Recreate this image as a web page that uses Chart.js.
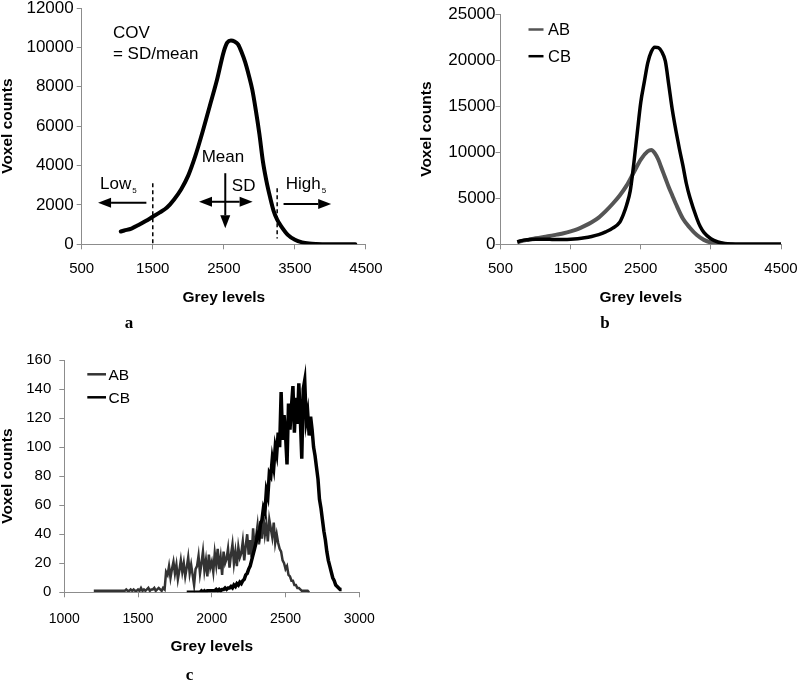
<!DOCTYPE html>
<html><head><meta charset="utf-8">
<script src="https://cdn.jsdelivr.net/npm/chart.js@4.4.1/dist/chart.umd.min.js"></script>
<style>
html,body{margin:0;padding:0;background:#fff;}
#wrap{position:relative;width:799px;height:681px;overflow:hidden;background:#fff;}
canvas{position:absolute;left:0;top:0;}
</style></head><body>
<div id="wrap">
<canvas id="ca" width="799" height="681"></canvas>
<canvas id="cb" width="799" height="681"></canvas>
<canvas id="cc" width="799" height="681"></canvas>
</div>
<script>
// ================= DATA =================
const panelLabels = ['a', 'b', 'c'];
const seriesNames = ['AB', 'CB'];
const xTitle = 'Grey levels';
const yTitle = 'Voxel counts';

// Panel a: single histogram (AB)
const aXTicks = [500, 1500, 2500, 3500, 4500];
const aYTicks = [0, 2000, 4000, 6000, 8000, 10000, 12000];
const aGrey   = [1050,1100,1200,1300,1400,1500,1600,1700,1800,1900,2000,2100,2200,2300,2400,2500,2550,2600,2650,2700,2750,2800,2850,2900,2950,3000,3050,3100,3150,3200,3250,3300,3400,3500,3600,3700,3800,3900,4000,4100,4200,4350];
const aCounts = [650,700,800,980,1180,1400,1620,1870,2280,2800,3500,4500,5700,7000,8300,9800,10250,10350,10300,10150,9750,9250,8600,7850,6800,5600,4200,3200,2400,1700,1250,950,480,230,100,40,15,5,0,0,0,0];
const lowCut = 1500;   // Low5 threshold
const highCut = 3250;  // High5 threshold
const meanGrey = 2520;

// Panel b: AB vs CB
const bXTicks = [500, 1500, 2500, 3500, 4500];
const bYTicks = [0, 5000, 10000, 15000, 20000, 25000];
const bGreyAB   = [740,800,900,1000,1100,1200,1300,1400,1500,1600,1700,1800,1900,2000,2100,2200,2300,2400,2500,2600,2650,2700,2750,2800,2850,2900,2950,3000,3100,3200,3300,3400,3500,3600,3700,3800,3900,4000,4500];
const bCountsAB = [200,350,500,650,780,900,1050,1200,1400,1650,2000,2400,2900,3600,4400,5300,6400,7800,9200,10100,10250,9900,9200,8200,7200,6200,5300,4400,2800,1800,1000,480,200,80,30,10,0,0,0];
const bGreyCB   = [740,800,900,1000,1100,1200,1300,1400,1500,1600,1700,1800,1900,2000,2100,2200,2250,2300,2350,2400,2450,2500,2550,2600,2650,2700,2750,2800,2850,2900,2950,3000,3050,3100,3150,3200,3300,3350,3400,3500,3600,3700,3800,3900,4000,4500];
const bCountsCB = [250,400,500,560,560,540,520,520,540,600,700,850,1050,1350,1750,2400,3200,4300,5800,8700,12100,15400,17600,19700,20900,21400,21350,20900,19900,17300,14600,12400,10400,8600,6600,5100,2800,1900,1300,600,250,80,20,0,0,0];

// Panel c: small-volume noisy histograms, bins of 10 grey levels
const cXTicks = [1000, 1500, 2000, 2500, 3000];
const cYTicks = [0, 20, 40, 60, 80, 100, 120, 140, 160];
const cBinWidth = 10;
const cStartAB = 1200;
const cCountsAB = [
  1,1,1,1,1,1,1,1,1,1,
  1,1,1,1,1,1,1,1,1,1,
  1,1,2,1,1,2,1,2,1,1,
  2,1,3,1,2,1,2,3,1,2,
  2,3,1,2,3,2,1,3,2,14,
  12,18,10,16,21,13,19,9,15,22,
  14,20,11,17,24,13,19,12,5,16,
  18,25,13,20,28,15,22,11,26,17,
  21,14,27,19,30,16,24,12,28,20,
  23,30,17,26,33,20,28,18,31,24,
  27,35,22,32,40,26,36,24,44,30,
  38,46,33,49,37,52,40,47,35,50,
  44,38,48,34,40,34,30,28,22,20,
  16,18,12,11,8,8,5,5,3,3,
  2,1,1,1,1,1,0];
const cStartCB = 1830;
const cCountsCB = [
  0,0,0,0,0,0,0,
  0,0,0,1,0,1,0,1,1,1,
  1,1,1,2,1,2,1,2,2,3,
  2,3,3,4,3,5,4,6,5,7,
  6,8,9,12,13,16,18,22,26,30,
  34,40,38,47,50,58,55,70,66,82,
  80,92,86,100,95,110,100,138,105,122,
  108,88,130,112,128,142,110,134,116,144,
  120,92,140,146,118,124,108,121,112,100,
  94,86,78,64,58,50,42,36,28,22,
  18,14,10,8,5,4,3,2,2];

// ================= STYLE / LAYOUT =================
const FONT = '"Liberation Sans", Arial, Helvetica, sans-serif';
const SERIF = '"Liberation Serif", "Times New Roman", serif';
const AXIS = '#8c8c8c';
const COL_AB = '#555555';
const COL_AB_C = '#333333';
const COL_CB = '#000000';
Chart.defaults.font.family = FONT;

function zip(xs, ys) { return xs.map((v, i) => ({x: v, y: ys[i]})); }
function bins(start, counts) { return counts.map((c, i) => ({x: start + i * cBinWidth, y: c})); }

function makeOptions(p) {
  const fit = (s, key, val) => { s[key] = val; s.paddingLeft = 0; s.paddingRight = 0; s.paddingTop = 0; s.paddingBottom = 0; };
  return {
    responsive: false, animation: false, devicePixelRatio: 1,
    layout: {padding: {left: p.left - p.yW, top: p.top, right: 799 - p.right, bottom: 681 - p.bottom - p.xH}},
    plugins: {legend: {display: false}, tooltip: {enabled: false}},
    elements: {point: {radius: 0}},
    scales: {
      x: {
        type: 'linear', min: p.xTicks[0], max: p.xTicks[p.xTicks.length - 1],
        afterBuildTicks: s => { s.ticks = p.xTicks.map(v => ({value: v})); },
        grid: {drawOnChartArea: false, drawTicks: true, tickLength: 5, color: AXIS, lineWidth: 1},
        border: {color: AXIS, width: 1},
        ticks: {font: {size: p.xTickSize, lineHeight: 1.2}, color: '#000', padding: p.xPad, maxRotation: 0, autoSkip: false, callback: v => String(v)},
        title: {display: true, text: xTitle, font: {size: 15.5, weight: 'bold', lineHeight: 1}, color: '#000', padding: 0},
        afterFit: s => fit(s, 'height', p.xH)
      },
      y: {
        type: 'linear', min: p.yTicks[0], max: p.yTicks[p.yTicks.length - 1],
        afterBuildTicks: s => { s.ticks = p.yTicks.map(v => ({value: v})); },
        grid: {drawOnChartArea: false, drawTicks: true, tickLength: 5, color: AXIS, lineWidth: 1},
        border: {color: AXIS, width: 1},
        ticks: {font: {size: p.yTickSize, lineHeight: 1.2}, color: '#000', padding: p.yPad, autoSkip: false, callback: v => String(v)},
        title: {display: true, text: yTitle, font: {size: 15.5, weight: 'bold', lineHeight: 1}, color: '#000', padding: 0},
        afterFit: s => fit(s, 'width', p.yW)
      }
    }
  };
}

function arrow(ctx, x1, y1, x2, y2, head = 13, half = 5) {
  const a = Math.atan2(y2 - y1, x2 - x1);
  const bx = x2 - head * Math.cos(a), by = y2 - head * Math.sin(a);
  ctx.lineWidth = 2;
  ctx.beginPath(); ctx.moveTo(x1, y1); ctx.lineTo(bx, by); ctx.stroke();
  ctx.beginPath(); ctx.moveTo(x2, y2);
  ctx.lineTo(bx - half * Math.sin(a), by + half * Math.cos(a));
  ctx.lineTo(bx + half * Math.sin(a), by - half * Math.cos(a));
  ctx.closePath(); ctx.fill();
}

function panelLetter(ctx, txt, x, y) {
  ctx.save();
  ctx.font = 'bold 17px ' + SERIF; ctx.fillStyle = '#000';
  ctx.textAlign = 'center'; ctx.textBaseline = 'alphabetic';
  ctx.fillText(txt, x, y);
  ctx.restore();
}

function drawLegend(ctx, items, x0, y0, dy, len, gap, size, lw) {
  ctx.save();
  ctx.font = size + 'px ' + FONT; ctx.textBaseline = 'middle'; ctx.textAlign = 'left';
  items.forEach((it, i) => {
    const y = y0 + i * dy;
    ctx.strokeStyle = it.color; ctx.lineWidth = lw;
    ctx.beginPath(); ctx.moveTo(x0, y); ctx.lineTo(x0 + len, y); ctx.stroke();
    ctx.fillStyle = '#000';
    ctx.fillText(it.label, x0 + len + gap, y + 1);
  });
  ctx.restore();
}

// ================= PANEL A =================
const annotA = {
  id: 'annotA',
  afterDraw(chart) {
    const {ctx, scales: {x, y}} = chart;
    const X = v => x.getPixelForValue(v), Y = v => y.getPixelForValue(v);
    ctx.save();
    ctx.strokeStyle = '#000'; ctx.fillStyle = '#000';
    ctx.lineWidth = 1.5; ctx.setLineDash([4, 3]);
    ctx.beginPath(); ctx.moveTo(X(lowCut), Y(3100)); ctx.lineTo(X(lowCut), Y(0)); ctx.stroke();
    ctx.beginPath(); ctx.moveTo(X(highCut), Y(2850)); ctx.lineTo(X(highCut), Y(300)); ctx.stroke();
    ctx.setLineDash([]);
    arrow(ctx, X(1410), Y(2110), X(730), Y(2110));
    arrow(ctx, X(3340), Y(2050), X(4010), Y(2050));
    arrow(ctx, X(meanGrey), Y(2160), X(2150), Y(2160));
    arrow(ctx, X(meanGrey), Y(2160), X(2905), Y(2160));
    arrow(ctx, X(meanGrey), Y(3610), X(meanGrey), Y(810));
    ctx.font = '17px ' + FONT; ctx.textBaseline = 'middle'; ctx.textAlign = 'left';
    ctx.fillText('COV', X(940), Y(10700));
    ctx.fillText('= SD/mean', X(940), Y(9650));
    ctx.fillText('Mean', X(2188), Y(4413));
    ctx.fillText('SD', X(2612), Y(2964));
    const lx = X(757), ly = Y(3066);
    ctx.fillText('Low', lx, ly);
    const hx = X(3370);
    ctx.fillText('High', hx, ly);
    const lw = ctx.measureText('Low').width, hw = ctx.measureText('High').width;
    ctx.font = '8px ' + FONT; ctx.textBaseline = 'alphabetic';
    ctx.fillText('5', lx + lw + 1, ly + 9);
    ctx.fillText('5', hx + hw + 1, ly + 9);
    ctx.restore();
    panelLetter(ctx, panelLabels[0], 129, 328);
  }
};
new Chart(document.getElementById('ca'), {
  type: 'line',
  data: {datasets: [{label: seriesNames[0], data: zip(aGrey, aCounts), borderColor: '#000', borderWidth: 4, cubicInterpolationMode: 'monotone', borderCapStyle: 'round', fill: false}]},
  options: makeOptions({left: 81.7, right: 366, top: 8, bottom: 244.3, yW: 81.7, xH: 61, xTicks: aXTicks, yTicks: aYTicks, xTickSize: 15, yTickSize: 17, xPad: 10.5, yPad: 3}),
  plugins: [annotA]
});

// ================= PANEL B =================
const annotB = {
  id: 'annotB',
  afterDraw(chart) {
    const {ctx, chartArea: ca} = chart;
    drawLegend(ctx, [{label: seriesNames[0], color: COL_AB}, {label: seriesNames[1], color: COL_CB}], ca.left + 28, ca.top + 15.5, 26.7, 15, 4.5, 16.5, 2.5);
    panelLetter(ctx, panelLabels[1], 605, 328);
  }
};
new Chart(document.getElementById('cb'), {
  type: 'line',
  data: {datasets: [
    {label: seriesNames[0], data: zip(bGreyAB, bCountsAB), borderColor: COL_AB, borderWidth: 4, cubicInterpolationMode: 'monotone', fill: false, order: 1},
    {label: seriesNames[1], data: zip(bGreyCB, bCountsCB), borderColor: COL_CB, borderWidth: 3.5, cubicInterpolationMode: 'monotone', fill: false, order: 0}
  ]},
  options: makeOptions({left: 500.5, right: 781, top: 14, bottom: 244.3, yW: 81.5, xH: 61, xTicks: bXTicks, yTicks: bYTicks, xTickSize: 15, yTickSize: 17, xPad: 10.5, yPad: 0}),
  plugins: [annotB]
});

// ================= PANEL C =================
const annotC = {
  id: 'annotC',
  afterDraw(chart) {
    const {ctx, chartArea: ca} = chart;
    drawLegend(ctx, [{label: seriesNames[0], color: COL_AB_C}, {label: seriesNames[1], color: COL_CB}], ca.left + 23, ca.top + 14.3, 23, 18.7, 2.5, 15.5, 2.5);
    panelLetter(ctx, panelLabels[2], 189.5, 680);
  }
};
new Chart(document.getElementById('cc'), {
  type: 'line',
  data: {datasets: [
    {label: seriesNames[0], data: bins(cStartAB, cCountsAB), borderColor: COL_AB_C, borderWidth: 2.5, tension: 0, fill: false, order: 1},
    {label: seriesNames[1], data: bins(cStartCB, cCountsCB), borderColor: COL_CB, borderWidth: 3.5, tension: 0, fill: false, order: 0}
  ]},
  options: makeOptions({left: 64.3, right: 359.3, top: 360, bottom: 592.3, yW: 64.3, xH: 62.15, xTicks: cXTicks, yTicks: cYTicks, xTickSize: 14, yTickSize: 15, xPad: 13, yPad: 8}),
  plugins: [annotC]
});
</script>
</body></html>
